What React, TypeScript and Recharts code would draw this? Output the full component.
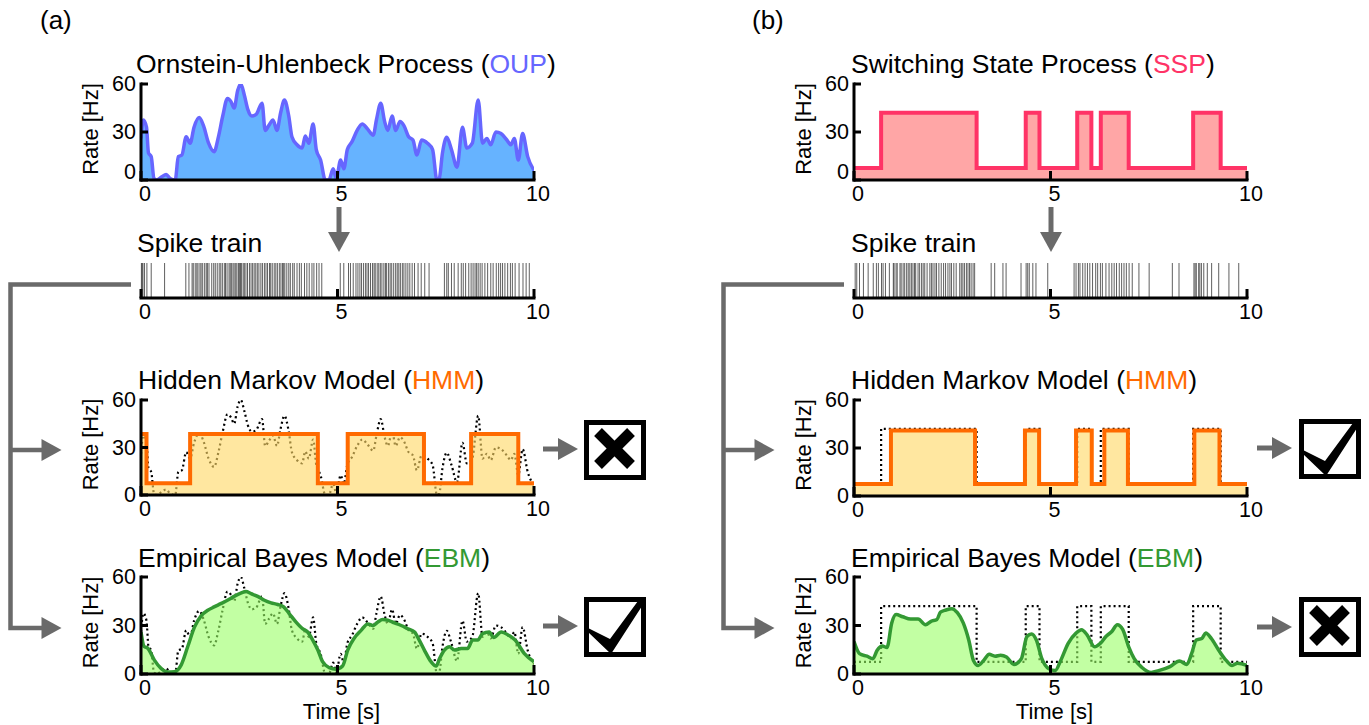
import React from 'react';
import { ComposedChart, Area, Scatter, XAxis, YAxis, Label } from 'recharts';

const FONT = "'Liberation Sans', Arial, Helvetica, sans-serif";

// ---------- data ----------
const oupTimes = [
  0, 0.06, 0.14, 0.19, 0.26, 0.33, 0.4, 0.53, 0.64, 0.74,
  0.87, 0.95, 1.04, 1.15, 1.25, 1.35, 1.48, 1.59, 1.72, 1.86,
  1.97, 2.08, 2.2, 2.29, 2.37, 2.46, 2.54, 2.63, 2.72, 2.82,
  2.93, 3.08, 3.16, 3.25, 3.36, 3.46, 3.55, 3.65, 3.76, 3.84,
  3.97, 4.1, 4.18, 4.27, 4.38, 4.46, 4.57, 4.69, 4.78, 4.89,
  4.97, 5.08, 5.16, 5.25, 5.37, 5.5, 5.63, 5.76, 5.91, 5.99,
  6.1, 6.2, 6.28, 6.39, 6.48, 6.59, 6.69, 6.81, 6.92, 7.02,
  7.14, 7.29, 7.42, 7.53, 7.59, 7.67, 7.78, 7.9, 8.04, 8.18,
  8.29, 8.43, 8.58, 8.69, 8.8, 8.9, 9.03, 9.16, 9.31, 9.41,
  9.5, 9.6, 9.71, 9.84, 10,
];
const oupRates = [
  26, 37.5, 33, 17, 14.6, 1, 0, 2, 3.5, 1,
  0, 14.6, 15.6, 27, 23, 33, 39, 34, 23, 17.7,
  27, 40, 51, 49, 45, 56, 60, 53, 44, 40,
  41, 48, 31, 34, 37.5, 31, 41.7, 50, 40, 27,
  22, 20, 27.5, 23, 35, 19, 12.5, 0, 0, 7,
  1, 12.5, 7, 19, 24, 31, 35, 32, 28, 37.5,
  48, 36.5, 31, 40, 31, 36.5, 34, 27, 25, 15.6,
  25, 23, 19, 0, 1, 16.7, 26.7, 19, 8, 33,
  20, 23, 50, 23, 26, 22, 30, 29, 25, 22,
  26, 12.5, 29, 14.6, 6,
];

const hmmATimes = [0, 0.14, 1.25, 4.5, 5.26, 7.2, 8.4, 9.6, 10];
const hmmARates = [38.5, 7.5, 38.5, 7.5, 38.5, 7.5, 38.5, 7.5, 7.5];

const ebmATimes = [
  0, 0.08, 0.17, 0.34, 0.51, 0.68, 0.85, 1.02, 1.19, 1.36,
  1.53, 1.7, 1.86, 2.03, 2.2, 2.37, 2.54, 2.67, 2.8, 2.97,
  3.14, 3.31, 3.48, 3.63, 3.77, 3.94, 4.11, 4.24, 4.37, 4.5,
  4.62, 4.79, 4.96, 5.13, 5.26, 5.42, 5.6, 5.77, 5.9, 6.02,
  6.15, 6.28, 6.45, 6.62, 6.79, 6.96, 7.08, 7.21, 7.38, 7.51,
  7.6, 7.72, 7.85, 7.98, 8.15, 8.31, 8.44, 8.57, 8.69, 8.86,
  8.97, 9.17, 9.35, 9.52, 9.75, 10,
];
const ebmARates = [
  26, 17, 16, 8.6, 3.5, 1.2, 1.4, 5.5, 17, 29,
  36, 39.4, 41.5, 43.5, 45.6, 48, 50, 51, 49.7, 48,
  45.6, 44, 43, 41.5, 37.4, 32.2, 28, 26, 21, 14.8,
  7.6, 3.9, 2.9, 4.9, 14.8, 22, 27, 31, 30, 32,
  33.7, 33.3, 31.6, 30, 28, 26, 21, 14.8, 7.6, 4.9,
  9.7, 14.8, 16.8, 14.8, 15.8, 15.8, 21, 21, 25, 26,
  22.6, 26, 24, 21, 12.8, 7.6,
];

const sspTimes = [0, 0.69, 3.12, 4.37, 4.72, 5.68, 6.04, 6.28, 6.99, 8.63, 9.33, 10];
const sspRates = [7.5, 42, 7.5, 42, 7.5, 42, 7.5, 42, 7.5, 42, 7.5, 7.5];

const hmmBTimes = [0, 0.94, 3.08, 4.35, 4.71, 5.65, 6.05, 6.37, 6.97, 8.66, 9.3, 10];
const hmmBRates = [7.5, 41, 7.5, 41, 7.5, 41, 7.5, 41, 7.5, 41, 7.5, 7.5];

const ebmBTimes = [
  0, 0.14, 0.33, 0.48, 0.59, 0.72, 0.84, 0.96, 1.07, 1.24,
  1.44, 1.63, 1.82, 1.96, 2.11, 2.2, 2.34, 2.49, 2.63, 2.78,
  2.92, 3.04, 3.16, 3.3, 3.44, 3.59, 3.73, 3.88, 4.07, 4.26,
  4.4, 4.52, 4.64, 4.78, 4.96, 5.12, 5.26, 5.45, 5.65, 5.79,
  5.93, 6.12, 6.27, 6.41, 6.56, 6.7, 6.84, 6.99, 7.13, 7.32,
  7.56, 7.75, 8.04, 8.28, 8.47, 8.59, 8.71, 8.85, 8.95, 9.09,
  9.28, 9.47, 9.62, 9.76, 10,
];
const ebmBRates = [
  20, 12.6, 11, 9.5, 14.7, 17.3, 16.4, 31.6, 36.8, 35.4,
  34, 34, 30.5, 32.6, 33.7, 38.3, 39.6, 40.4, 37.9, 31.6,
  21, 8.4, 5.3, 8.4, 12.2, 11, 11.6, 10.5, 5.9, 9.5,
  23.2, 24.8, 21, 9.5, 3.2, 2.1, 8.4, 19, 25.3, 27.4,
  24.2, 16.8, 19, 23.2, 26.3, 30.5, 27.4, 16.8, 9.5, 4.2,
  1, 2.1, 4.6, 8, 5.9, 12.6, 21, 22, 25.3, 22,
  14.7, 8.4, 5.3, 6.7, 5.3,
];

const spikesA = [
  0.01, 0.03, 0.05, 0.09, 0.15, 0.26, 0.6,
  1.14, 1.22, 1.3, 1.33, 1.38, 1.42, 1.45, 1.5, 1.53, 1.57, 1.62, 1.66, 1.69,
  1.73, 1.8, 1.85, 1.89, 1.94, 1.99, 2.03, 2.07, 2.12, 2.15, 2.19, 2.24, 2.27,
  2.3, 2.34, 2.37, 2.41, 2.44, 2.48, 2.51, 2.53, 2.56, 2.6, 2.63, 2.67, 2.71,
  2.76, 2.8, 2.84, 2.88, 2.92, 2.96, 3.0, 3.05, 3.09, 3.14, 3.18, 3.22, 3.27,
  3.3, 3.34, 3.39, 3.43, 3.47, 3.52, 3.56, 3.6, 3.63, 3.66, 3.71, 3.76, 3.8,
  3.86, 3.9, 3.97, 4.03, 4.08, 4.16, 4.22, 4.28, 4.35, 4.4, 4.47, 4.53, 4.6,
  5.07, 5.16, 5.28, 5.33, 5.4, 5.47, 5.52, 5.57, 5.61, 5.66, 5.71, 5.75, 5.79,
  5.84, 5.89, 5.93, 5.96, 6.01, 6.05, 6.09, 6.13, 6.18, 6.22, 6.25, 6.3, 6.34,
  6.38, 6.43, 6.48, 6.52, 6.56, 6.6, 6.65, 6.69, 6.74, 6.79, 6.84, 6.9, 6.96,
  7.05, 7.13, 7.22, 7.33,
  7.72, 7.78, 7.82, 7.9, 7.97, 8.07, 8.15, 8.2, 8.26, 8.34, 8.4, 8.45, 8.5,
  8.54, 8.58, 8.63, 8.68, 8.75, 8.82, 8.9, 8.96, 9.04, 9.1, 9.15, 9.2, 9.26,
  9.33, 9.4, 9.45, 9.52, 9.62, 9.72, 9.8, 9.88,
];

const spikesB = [
  0.03, 0.07, 0.14, 0.24, 0.36, 0.49, 0.57, 0.62, 0.7, 0.74, 0.8, 0.9,
  1.0, 1.02, 1.07, 1.1, 1.17, 1.2, 1.25, 1.29, 1.34, 1.38, 1.42, 1.46, 1.5,
  1.54, 1.57, 1.63, 1.67, 1.72, 1.76, 1.8, 1.86, 1.93, 1.97, 2.01, 2.06, 2.1,
  2.16, 2.22, 2.28, 2.33, 2.39, 2.44, 2.48, 2.54, 2.6, 2.69, 2.73, 2.77, 2.81,
  2.86, 2.9, 2.94, 2.98, 3.03, 3.07,
  3.49, 3.58, 3.79, 3.87, 4.25, 4.38, 4.42, 4.46, 4.55, 4.63, 4.93,
  5.6, 5.65, 5.71, 5.75, 5.82, 5.88, 5.94, 6.0, 6.07, 6.15, 6.2, 6.27, 6.32,
  6.41, 6.49, 6.56, 6.62, 6.68, 6.75, 6.81, 6.87, 6.93, 7.0, 7.08, 7.25, 7.51,
  8.1, 8.27, 8.65, 8.68, 8.71, 8.77, 8.8, 8.84, 8.9, 8.99, 9.1, 9.28, 9.54, 9.79,
];

const xTicks = [0, 5, 10];
const yTicks = [0, 30, 60];

const toPts = (ts: number[], vs: number[]) => ts.map((t, i) => ({ t, v: vs[i] }));

const oupData = toPts(oupTimes, oupRates);
const hmmAData = toPts(hmmATimes, hmmARates);
const ebmAData = toPts(ebmATimes, ebmARates);
const sspData = toPts(sspTimes, sspRates);
const hmmBData = toPts(hmmBTimes, hmmBRates);
const ebmBData = toPts(ebmBTimes, ebmBRates);

// ---------- styling ----------
const PLOT_W = 393;
const Y_W = 80;
const M_TOP = 14;
const M_RIGHT = 26;
const X_H = 51;
const SPIKE_H = 35;
const FRAME = { stroke: '#000', strokeWidth: 3, strokeLinecap: 'square' as const };
const GRAY = '#6a6a6a';

function XTick(props: any) {
  const { x, y, payload } = props;
  return (
    <g>
      <line x1={x} x2={x} y1={y} y2={y - 9} stroke="#000" strokeWidth={3} />
      <text x={x + 4} y={y + 14} textAnchor="middle" dominantBaseline="central"
        fontSize={21.5} fontFamily={FONT} fill="#000">{payload.value}</text>
    </g>
  );
}

function YTick(props: any) {
  const { x, y, payload, zeroShift } = props;
  const v = payload.value;
  return (
    <g>
      <line x1={x} x2={x + 7} y1={y} y2={y} stroke="#000" strokeWidth={3} />
      <text x={x - 5} y={y + (v === 0 ? zeroShift : 0)} textAnchor="end" dominantBaseline="central"
        fontSize={21.5} fontFamily={FONT} fill="#000">{v}</text>
    </g>
  );
}

const RateLabel = (props: any) => {
  const vb = props.viewBox || {};
  const cx = (vb.x ?? 0) + 29;
  const cy = (vb.y ?? 0) + (vb.height ?? 0) / 2 - 3;
  return (
    <text x={cx} y={cy} transform={`rotate(-90 ${cx} ${cy})`} textAnchor="middle"
      dominantBaseline="central" fontSize={22} fontFamily={FONT} fill="#000">Rate [Hz]</text>
  );
};

const TimeLabel = (props: any) => {
  const vb = props.viewBox || {};
  const cx = (vb.x ?? 0) + (vb.width ?? 0) / 2 + 4;
  const cy = (vb.y ?? 0) + 45;
  return (
    <text x={cx} y={cy} textAnchor="middle" fontSize={22} fontFamily={FONT} fill="#000">Time [s]</text>
  );
};

function RatePanel({ left, top, plotH, zeroShift, showTime, children }: any) {
  const width = Y_W + PLOT_W + M_RIGHT;
  const height = M_TOP + plotH + X_H;
  return (
    <div style={{ position: 'absolute', left: left - Y_W, top: top - M_TOP, width, height }}>
      <ComposedChart width={width} height={height} margin={{ top: M_TOP, right: M_RIGHT, bottom: 0, left: 0 }}>
        <XAxis type="number" dataKey="t" domain={[0, 10]} ticks={xTicks} interval={0} height={X_H}
          tickSize={0} tickMargin={0} axisLine={FRAME} tickLine={false}
          tick={(p: any) => <XTick {...p} />} allowDataOverflow>
          {showTime ? <Label content={TimeLabel} /> : null}
        </XAxis>
        <XAxis xAxisId="top" orientation="top" type="number" domain={[0, 10]} height={0}
          tick={false} tickLine={false} axisLine={FRAME} />
        <YAxis type="number" domain={[0, 60]} ticks={yTicks} interval={0} width={Y_W}
          tickSize={0} tickMargin={0} axisLine={FRAME} tickLine={false} allowDataOverflow
          tick={(p: any) => <YTick {...p} zeroShift={zeroShift} />}>
          <Label content={RateLabel} />
        </YAxis>
        <YAxis yAxisId="right" orientation="right" type="number" domain={[0, 60]} width={0}
          tick={false} tickLine={false} axisLine={FRAME} />
        {children}
      </ComposedChart>
    </div>
  );
}

const SpikeMark = (p: any) => {
  if (p.cx == null || p.cy == null) return <g />;
  return (
    <line x1={p.cx} x2={p.cx} y1={p.cy} y2={p.cy + SPIKE_H} stroke="#000" strokeOpacity={0.7} strokeWidth={0.9} />
  );
};

function SpikePanel({ left, top, spikes }: any) {
  const ML = 20;
  const MT = 4;
  const width = ML + PLOT_W + M_RIGHT;
  const height = MT + SPIKE_H + 30;
  const data = spikes.map((t: number) => ({ t, v: 1 }));
  return (
    <div style={{ position: 'absolute', left: left - ML, top: top - MT, width, height }}>
      <ComposedChart width={width} height={height} margin={{ top: MT, right: M_RIGHT, bottom: 0, left: ML }}>
        <XAxis type="number" dataKey="t" domain={[0, 10]} ticks={xTicks} interval={0} height={30}
          tickSize={0} tickMargin={0} axisLine={FRAME} tickLine={false}
          tick={(p: any) => <XTick {...p} />} />
        <YAxis hide type="number" dataKey="v" domain={[0, 1]} width={0} />
        <Scatter data={data} dataKey="v" shape={SpikeMark} isAnimationActive={false} />
      </ComposedChart>
    </div>
  );
}

const dotted = (data: any, type: string) => (
  <Area data={data} dataKey="v" type={type as any} stroke="#000" strokeWidth={2.2} strokeDasharray="2 3"
    fill="none" dot={false} activeDot={false} isAnimationActive={false} />
);

function Title({ x, y, pre, tag, color }: any) {
  return (
    <text x={x} y={y} fontSize={26.5} fontFamily={FONT} fill="#000">
      {pre}{tag ? <>(<tspan fill={color}>{tag}</tspan>)</> : null}
    </text>
  );
}

function RightArrow({ x1, x2, y }: any) {
  return (
    <g>
      <line x1={x1} x2={x2 - 18} y1={y} y2={y} stroke={GRAY} strokeWidth={5} />
      <polygon points={`${x2 - 20},${y - 11} ${x2 - 20},${y + 11} ${x2},${y}`} fill={GRAY} />
    </g>
  );
}

function DownArrow({ x, y1, y2 }: any) {
  return (
    <g>
      <line x1={x} x2={x} y1={y1} y2={y2 - 18} stroke={GRAY} strokeWidth={5} />
      <polygon points={`${x - 11},${y2 - 20} ${x + 11},${y2 - 20} ${x},${y2}`} fill={GRAY} />
    </g>
  );
}

function CrossBox({ bx, by }: any) {
  return (
    <g>
      <rect x={bx + 2.5} y={by + 2.5} width={57} height={55} fill="#fff" stroke="#000" strokeWidth={5} />
      <line x1={bx + 14} y1={by + 12} x2={bx + 47} y2={by + 45} stroke="#000" strokeWidth={11} />
      <line x1={bx + 47} y1={by + 12} x2={bx + 14} y2={by + 45} stroke="#000" strokeWidth={11} />
    </g>
  );
}

function CheckBox({ bx, by }: any) {
  const pts = [[4, 31], [26, 42], [54, 4], [60, 6], [27, 57], [4, 35]]
    .map(([px, py]) => `${bx + px},${by + py}`).join(' ');
  return (
    <g>
      <rect x={bx + 2.5} y={by + 2.5} width={57} height={55} fill="#fff" stroke="#000" strokeWidth={5} />
      <polygon points={pts} fill="#000" />
    </g>
  );
}

function Connector({ x, xEnd, yTop, yMid, yBot }: any) {
  return (
    <g>
      <polyline points={`${xEnd},${yTop} ${x},${yTop} ${x},${yBot} ${x + 32},${yBot}`}
        fill="none" stroke={GRAY} strokeWidth={4.5} />
      <line x1={x} x2={x + 32} y1={yMid} y2={yMid} stroke={GRAY} strokeWidth={4.5} />
      <polygon points={`${x + 31},${yMid - 11} ${x + 31},${yMid + 11} ${x + 51},${yMid}`} fill={GRAY} />
      <polygon points={`${x + 31},${yBot - 11} ${x + 31},${yBot + 11} ${x + 51},${yBot}`} fill={GRAY} />
    </g>
  );
}

export default function App() {
  const AX = 141;
  const BX = 854;
  return (
    <div style={{ position: 'absolute', left: 0, top: 0, width: 1369, height: 725, overflow: 'hidden', background: '#fff' }}>
      {/* Panel (a) */}
      <RatePanel left={AX} top={84} plotH={96} zeroShift={-8}>
        <Area data={oupData} dataKey="v" type="monotone" stroke="#6666ff" strokeWidth={3.5}
          fill="#0080ff" fillOpacity={0.6} dot={false} activeDot={false} isAnimationActive={false} />
      </RatePanel>
      <SpikePanel left={AX} top={263} spikes={spikesA} />
      <RatePanel left={AX} top={400} plotH={95} zeroShift={0}>
        {dotted(oupData, 'monotone')}
        <Area data={hmmAData} dataKey="v" type="stepAfter" stroke="#ff6a00" strokeWidth={4}
          fill="#ffd966" fillOpacity={0.62} dot={false} activeDot={false} isAnimationActive={false} />
      </RatePanel>
      <RatePanel left={AX} top={577} plotH={97} zeroShift={0} showTime>
        {dotted(oupData, 'monotone')}
        <Area data={ebmAData} dataKey="v" type="monotone" stroke="#339933" strokeWidth={3.5}
          fill="#99ff66" fillOpacity={0.6} dot={false} activeDot={false} isAnimationActive={false} />
      </RatePanel>

      {/* Panel (b) */}
      <RatePanel left={BX} top={84} plotH={96} zeroShift={-8}>
        <Area data={sspData} dataKey="v" type="stepAfter" stroke="#ff3366" strokeWidth={4}
          fill="#ff6666" fillOpacity={0.58} dot={false} activeDot={false} isAnimationActive={false} />
      </RatePanel>
      <SpikePanel left={BX} top={263} spikes={spikesB} />
      <RatePanel left={BX} top={400} plotH={96} zeroShift={0}>
        {dotted(sspData, 'stepAfter')}
        <Area data={hmmBData} dataKey="v" type="stepAfter" stroke="#ff6a00" strokeWidth={4}
          fill="#ffd966" fillOpacity={0.62} dot={false} activeDot={false} isAnimationActive={false} />
      </RatePanel>
      <RatePanel left={BX} top={577} plotH={97} zeroShift={0} showTime>
        {dotted(sspData, 'stepAfter')}
        <Area data={ebmBData} dataKey="v" type="monotone" stroke="#339933" strokeWidth={3.5}
          fill="#99ff66" fillOpacity={0.6} dot={false} activeDot={false} isAnimationActive={false} />
      </RatePanel>

      {/* Annotations */}
      <svg width={1369} height={725} style={{ position: 'absolute', left: 0, top: 0, pointerEvents: 'none' }}>
        <text x={40} y={29} fontSize={26} fontFamily={FONT} fill="#000">(a)</text>
        <text x={752} y={29} fontSize={26} fontFamily={FONT} fill="#000">(b)</text>

        <Title x={136} y={73} pre="Ornstein-Uhlenbeck Process " tag="OUP" color="#6666ff" />
        <Title x={137} y={252} pre="Spike train" />
        <Title x={138} y={389} pre="Hidden Markov Model " tag="HMM" color="#ff6a00" />
        <Title x={138} y={567} pre="Empirical Bayes Model " tag="EBM" color="#339933" />

        <Title x={851} y={73} pre="Switching State Process " tag="SSP" color="#ff3366" />
        <Title x={851} y={252} pre="Spike train" />
        <Title x={851} y={389} pre="Hidden Markov Model " tag="HMM" color="#ff6a00" />
        <Title x={851} y={567} pre="Empirical Bayes Model " tag="EBM" color="#339933" />

        <DownArrow x={339} y1={207} y2={252} />
        <DownArrow x={1051} y1={207} y2={252} />

        <Connector x={10.5} xEnd={131} yTop={284.5} yMid={450} yBot={628} />
        <Connector x={723.5} xEnd={844} yTop={284.5} yMid={450} yBot={628} />

        <RightArrow x1={543} x2={578} y={449} />
        <RightArrow x1={543} x2={578} y={626} />
        <RightArrow x1={1257} x2={1292} y={448} />
        <RightArrow x1={1257} x2={1292} y={627} />

        <CrossBox bx={584} by={420} />
        <CheckBox bx={584} by={597} />
        <CheckBox bx={1299} by={419} />
        <CrossBox bx={1299} by={597} />
      </svg>
    </div>
  );
}
